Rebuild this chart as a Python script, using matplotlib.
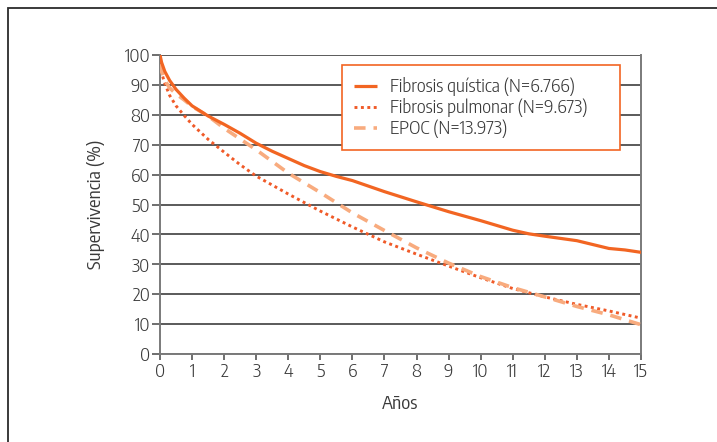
import matplotlib
matplotlib.use("Agg")
import matplotlib.pyplot as plt
from matplotlib.patches import Rectangle

plt.rcParams['font.family'] = ['Encode Sans Condensed', 'DejaVu Sans']
plt.rcParams['font.weight'] = 300

# Survival curves (years, % surviving)
fq_years = [0, 0.05, 0.15, 0.3, 0.5, 0.75, 1, 1.5, 2, 2.5, 3, 3.5, 4, 4.5, 5, 5.5, 6, 7, 8, 9, 10, 11, 11.5, 12, 13, 13.5, 14, 14.5, 15]
fq_surv = [100, 97.5, 94.5, 91.5, 88.5, 85.6, 83, 79.6, 76.8, 73.8, 70.5, 67.8, 65.4, 63, 61, 59.4, 58, 54.3, 50.9, 47.6, 44.6, 41.4, 40.2, 39.4, 37.9, 36.6, 35.3, 34.8, 34]

fp_years = [0, 0.05, 0.15, 0.3, 0.5, 0.75, 1, 1.5, 2, 2.5, 3, 4, 5, 6, 7, 8, 9, 10, 11, 12, 13, 14, 15]
fp_surv = [97, 94, 90.5, 86.5, 83, 79.8, 76.8, 71.8, 67.5, 63.3, 59.5, 53.5, 47.8, 42.5, 37.5, 33.4, 29.4, 25.5, 21.9, 19.1, 16.6, 14.4, 12]

ep_years = [0, 0.05, 0.15, 0.3, 0.5, 0.75, 1, 1.5, 2, 3, 4, 5, 6, 7, 8, 9, 10, 11, 12, 13, 14, 15]
ep_surv = [97, 94.5, 91.5, 89, 87, 85, 82.8, 79.6, 75.5, 68.3, 60.5, 54, 47.2, 41.3, 35.5, 30.4, 25.9, 22.2, 19.1, 15.9, 13.1, 9.8]

labels = ["Fibrosis quística (N=6.766)", "Fibrosis pulmonar (N=9.673)", "EPOC (N=13.973)"]
x_ticks = list(range(0, 16))
y_ticks = list(range(0, 101, 10))

C_SOLID = "#F26522"
C_DOT = "#F05A28"
C_DASH = "#F8AB7E"
TXT = "#3a3a3a"
FS = 13.5

fig = plt.figure(figsize=(7.17, 4.42), dpi=100)
ax = fig.add_axes([160/717, 1-354/442, 481/717, 299/442])

# outer frame (open to the right and bottom edges)
fig.add_artist(Rectangle((8/717, -0.2), 1.5, 0.2 + 1 - 8/442, transform=fig.transFigure,
                         fill=False, edgecolor="#2b2b2b", linewidth=1.3))

ax.plot(fq_years, fq_surv, color=C_SOLID, lw=2.3, solid_capstyle='butt', label=labels[0], zorder=4)
ax.plot(fp_years, fp_surv, color=C_DOT, lw=2.1, linestyle=(0, (1, 1.2)), label=labels[1], zorder=3)
ax.plot(ep_years, ep_surv, color=C_DASH, lw=2.6, linestyle=(0, (3.2, 2.2)), label=labels[2], zorder=3)

ax.set_xlim(0, 15)
ax.set_ylim(0, 100)
ax.set_xticks(x_ticks)
ax.set_yticks(y_ticks)
ax.yaxis.grid(True, color="#2e2e2e", lw=1.1)
ax.set_axisbelow(True)

for side in ("left", "bottom", "right"):
    ax.spines[side].set_color("#7a7a7a")
    ax.spines[side].set_linewidth(1.4)
ax.spines["top"].set_visible(False)

ax.tick_params(axis='y', direction='out', length=6, width=1.2, color="#555555",
               labelsize=FS, labelcolor=TXT, pad=1)
ax.tick_params(axis='x', direction='out', length=4, width=1.2, color="#555555",
               labelsize=FS, labelcolor=TXT, pad=2)

ax.set_xlabel("Años", fontsize=FS, color=TXT, labelpad=10)
ax.set_ylabel("Supervivencia (%)", fontsize=FS, color=TXT, labelpad=14)

leg = ax.legend(loc='upper left', bbox_to_anchor=(0.378, 0.9666, 0.578, 0.0),
                mode='expand', fontsize=FS, frameon=True, fancybox=False,
                handlelength=1.2, handletextpad=0.7, borderpad=0.65,
                labelspacing=0.12, borderaxespad=0)
leg.get_frame().set_edgecolor("#F26522")
leg.get_frame().set_linewidth(1.2)
leg.get_frame().set_alpha(1)
for t in leg.get_texts():
    t.set_color(TXT)

fig.savefig("out.png", dpi=100)
